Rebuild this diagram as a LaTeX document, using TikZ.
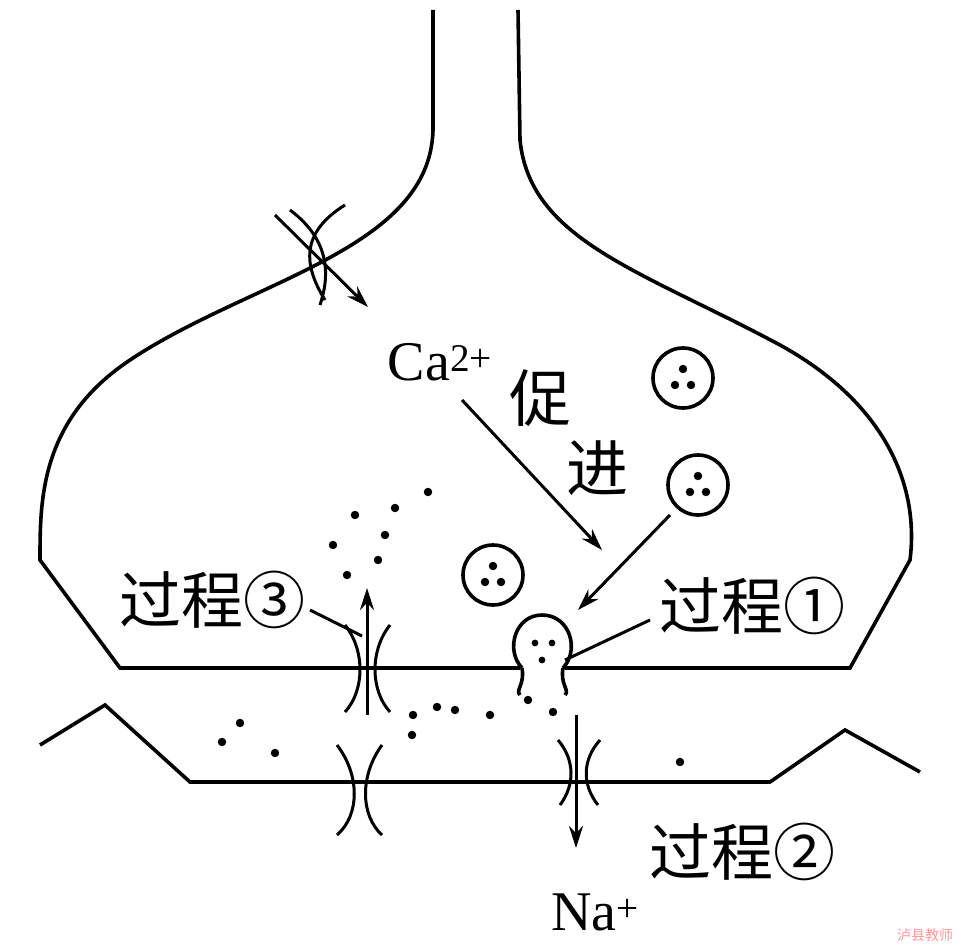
\documentclass[tikz,border=0pt]{standalone}
\usepackage{fontspec}
\setmainfont{Liberation Serif}
\newfontfamily\cjk{Noto Sans CJK SC}
\usetikzlibrary{arrows.meta}
\begin{document}
\begin{tikzpicture}[x=1pt,y=-1pt,line width=3.6pt,
  arr/.style={-{Stealth[length=22pt,width=14pt]},line width=3pt},
  dot/.style={circle,fill,inner sep=3pt},
  lbl/.style={font=\cjk\fontsize{62}{64}\selectfont,inner sep=0pt},
  thin/.style={line width=3pt},
  ves/.style={circle,draw,minimum size=60pt,inner sep=0pt}]
\useasboundingbox (0,0) rectangle (962,947);
% presynaptic
\draw (433,10) -- (433,130) .. controls (430,250) and (250,280) .. (130,360) .. controls (40,420) and (40,500) .. (40,560) -- (120,668) -- (850,668) -- (910,560) .. controls (920,480) and (880,400) .. (780,345) .. controls (640,270) and (530,240) .. (520,140) -- (518,10);
% postsynaptic
\draw (40,745) -- (105,705) -- (190,782) -- (770,782) -- (845,730) -- (920,772);
% releasing vesicle
\fill[white] (520,663) rectangle (565,673);
\draw (522,668) .. controls (525,685) and (515,690) .. (520,695);
\draw (563,668) .. controls (560,685) and (570,690) .. (565,695);
\draw (522,668) .. controls (505,650) and (515,615) .. (542,615) .. controls (570,615) and (580,650) .. (563,668);
\foreach \p in {(535,643),(552,643),(542,660)} \node[dot,inner sep=2.4pt] at \p {};
% vesicles
\node[ves] (v1) at (683,378) {};
\node[ves] (v2) at (698,485) {};
\node[ves] (v3) at (493,575) {};
\foreach \c in {(683,378),(698,485),(493,575)}{
 \path \c node[dot] at +(0,-9) {} node[dot] at +(-8,7) {} node[dot] at +(8,7) {};
}
% Ca channel
\draw[thin] (290,210) .. controls (330,240) and (330,275) .. (320,305);
\draw[thin] (345,205) .. controls (305,230) and (300,260) .. (325,300);
\coordinate (ca1) at (275,215); \coordinate (ca2) at (368,307);
\draw[arr] (ca1) -- (ca2);
\node[inner sep=0pt,font=\fontsize{56}{58}\selectfont] (ca) at (440,362) {Ca\textsuperscript{2+}};
\node[lbl] (cu) at (540,398) {促};
\node[lbl] (jin) at (597,468) {进};
\coordinate (a1) at (462,400); \coordinate (a2) at (602,550);
\draw[arr] (a1) -- (a2);
\coordinate (b1) at (670,515); \coordinate (b2) at (578,610);
\draw[arr] (b1) -- (b2);
\node[lbl] (p1) at (752,606) {过程①};
\coordinate (p1e) at (565,660);
\draw[thin] (650,620) -- (p1e);
\node[lbl] (p3) at (212,600) {过程③};
\draw[thin] (310,610) -- (362,636);
% channel 3
\draw[thin] (345,625) .. controls (365,650) and (365,690) .. (345,712);
\draw[thin] (390,625) .. controls (370,650) and (370,690) .. (390,712);
\coordinate (u1) at (367,715); \coordinate (u2) at (367,588);
\draw[arr] (u1) -- (u2);
% lower left channel
\draw[thin] (337,745) .. controls (360,775) and (360,815) .. (337,835);
\draw[thin] (382,745) .. controls (360,775) and (360,815) .. (382,835);
% Na channel
\draw[thin] (558,740) .. controls (575,760) and (575,785) .. (560,805);
\draw[thin] (600,740) .. controls (582,760) and (582,785) .. (598,805);
\coordinate (n1) at (576,715); \coordinate (n2) at (576,848);
\draw[arr] (n1) -- (n2);
\node[inner sep=0pt,font=\fontsize{56}{58}\selectfont] (na) at (595,912) {Na\textsuperscript{+}};
\node[lbl] (p2) at (742,852) {过程②};
% scattered dots
\foreach \p in {(428,492),(395,508),(355,515),(385,535),(333,545),(378,560),(347,575),
 (413,715),(437,707),(455,710),(490,715),(528,700),(553,712),(412,735),(240,723),(222,742),(275,753),(680,762)}
 \node[dot] at \p {};
\node[font=\cjk\fontsize{14}{14}\selectfont,text=red!40,inner sep=0pt] at (925,935) {泸县教师};
\end{tikzpicture}
\end{document}
